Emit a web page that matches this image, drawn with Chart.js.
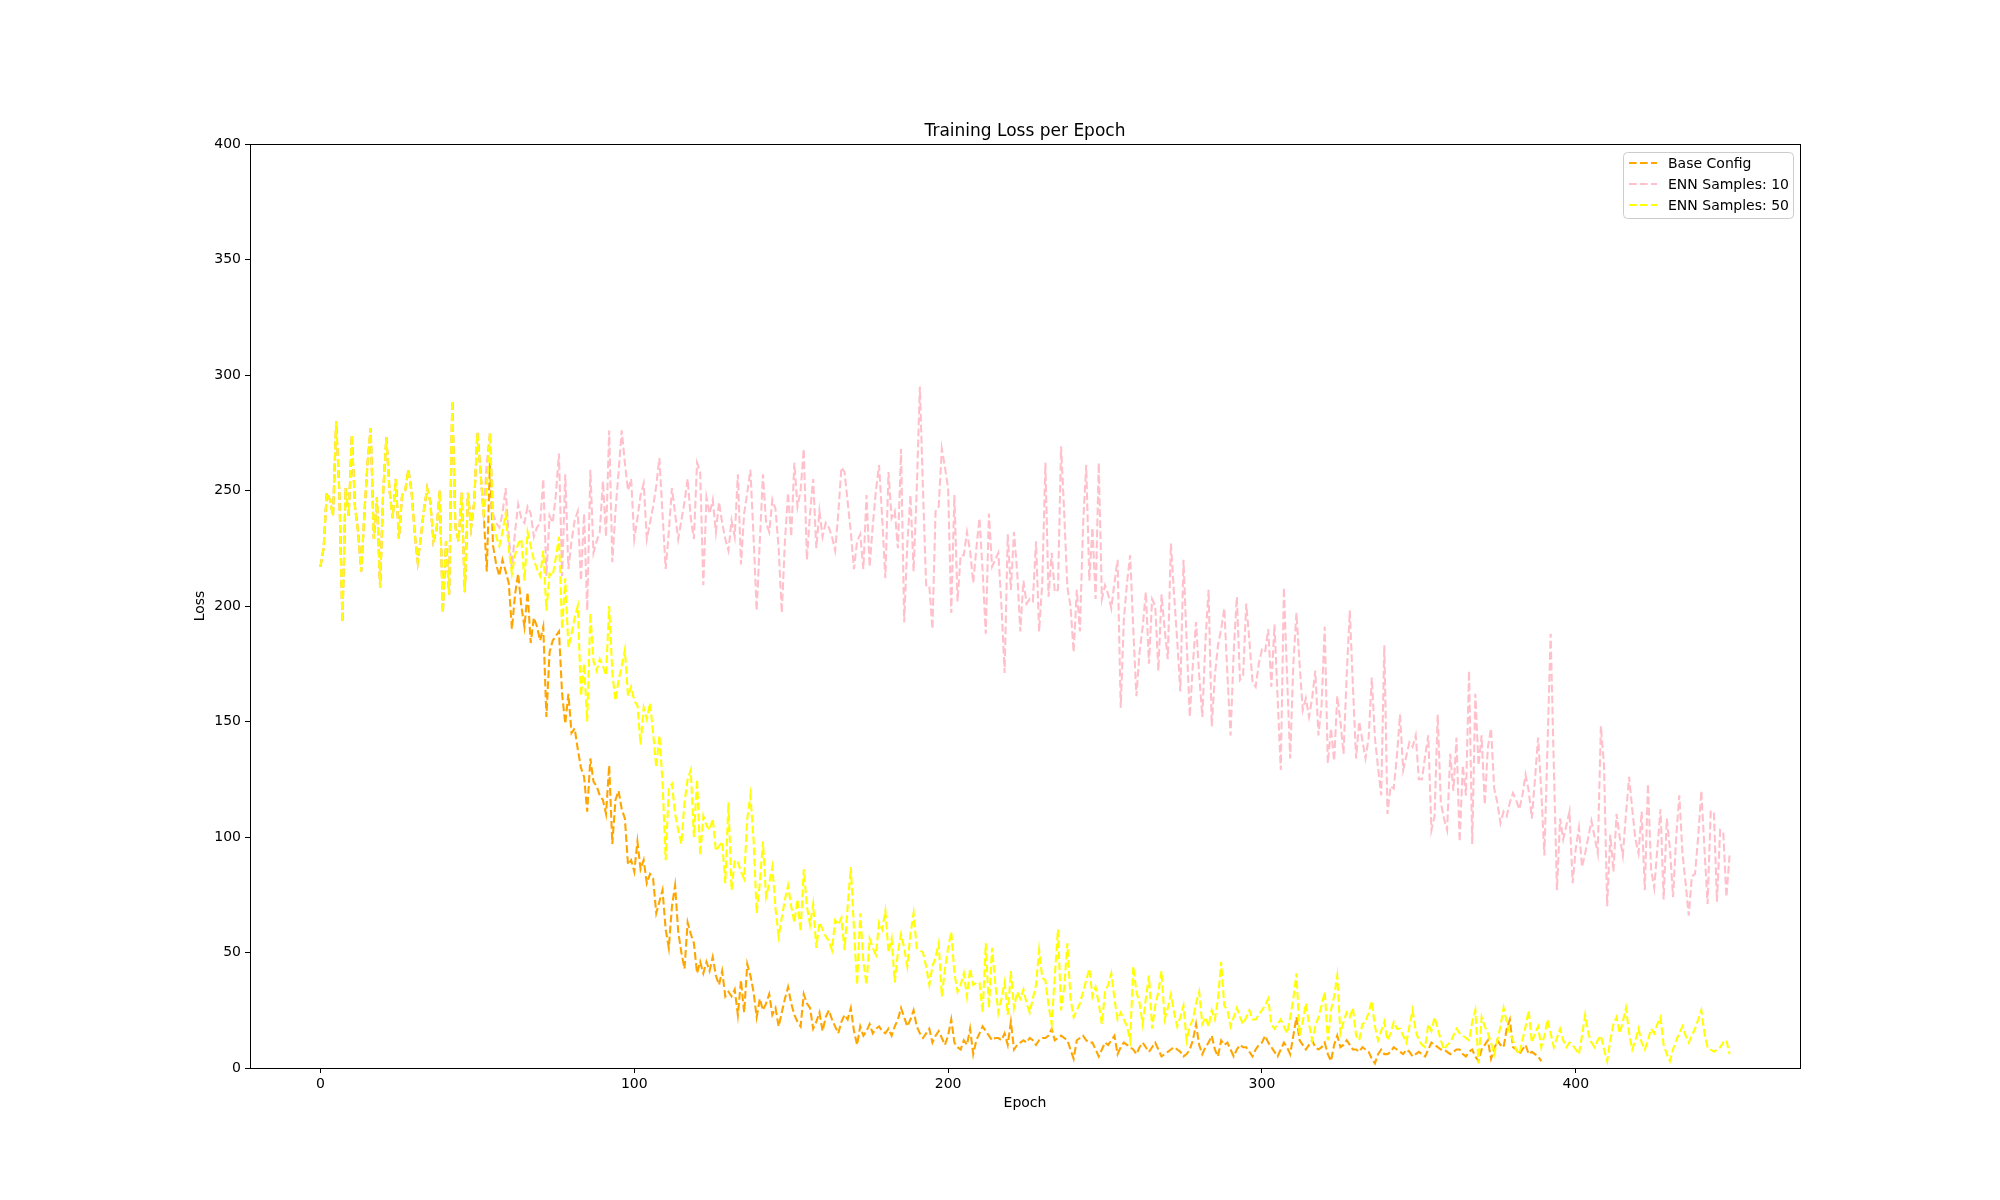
<!DOCTYPE html>
<html>
<head>
<meta charset="utf-8">
<title>Training Loss per Epoch</title>
<script src="https://cdn.jsdelivr.net/npm/chart.js"></script>
<style>
  html, body { margin: 0; padding: 0; background: #ffffff; }
  canvas { display: block; }
</style>
</head>
<body>
<canvas id="myChart" width="2000" height="1200"></canvas>
<script>
// loss values, one per epoch
// the three runs start on the same curve (epochs 0-52)
const firstEpochs = [
  217,225,249,246,239,280,250,193,251,239,
  274,243,232,215,240,262,277,229,247,208,
  250,273,250,238,255,229,248,250,259,250,
  232,219,230,242,251,245,228,233,250,197,
  228,205,289,234,228,249,206,249,234,245,
  275,258,240
]

// Base Config, epochs 53-389
const baseLater = [
  215,262,226,218,213,220,215,
  210,190,205,214,200,191,206,184,195,191,
  185,191,152,180,185,187,189,162,149,162,
  145,147,138,130,126,111,134,124,122,118,
  116,110,131,97,116,120,112,108,88,90,
  85,98,86,90,80,84,82,67,72,77,
  60,52,70,79,59,50,43,63,58,54,
  41,46,41,46,42,48,40,36,42,31,
  33,31,34,23,38,24,45,40,33,22,
  30,25,28,32,23,26,18,24,30,35,
  28,23,20,18,32,28,26,17,20,24,
  16,22,25,21,18,15,20,23,21,26,
  16,10,18,14,16,19,15,17,18,16,
  15,17,14,18,21,26,22,18,21,25,
  18,15,13,15,17,11,14,16,13,10,
  14,21,11,9,8,12,10,17,6,12,
  15,18,16,14,12,13,13,12,15,10,
  20,8,10,11,12,11,13,12,10,12,
  13,13,14,17,12,13,14,13,12,8,
  4,12,13,14,12,11,11,8,5,8,
  11,10,12,14,6,9,11,10,9,8,
  6,9,11,9,7,9,11,8,5,6,
  7,8,9,8,7,5,6,8,12,19,
  10,6,9,11,14,8,5,12,10,11,
  8,5,8,10,9,9,7,5,8,10,
  11,14,11,9,7,5,8,11,9,6,
  14,22,12,10,8,10,12,9,8,9,
  11,6,3,10,14,9,10,12,10,8,
  8,7,9,8,7,4,2,6,8,6,
  6,7,9,8,7,6,8,7,5,6,
  7,6,5,8,11,10,9,8,8,7,
  6,7,8,8,6,5,7,8,5,3,
  8,10,12,4,8,12,10,9,17,21,
  9,8,6,8,10,6,7,6,5,3
]

// ENN Samples: 10, epochs 53-449
const enn10Later = [
  262,275,240,236,234,240,251,
  230,216,232,244,238,236,243,240,230,234,
  236,255,213,239,236,248,266,213,257,216,
  228,237,241,211,240,198,259,223,228,232,
  254,230,276,219,241,258,276,262,250,255,
  229,238,248,253,229,236,243,252,264,240,
  216,232,251,240,229,237,245,255,238,229,
  262,258,209,247,240,246,232,245,236,229,
  224,237,230,257,218,240,249,259,230,198,
  228,257,236,232,246,242,225,197,228,249,
  230,262,243,250,268,220,240,255,225,241,
  230,236,234,230,224,240,260,258,245,232,
  216,228,231,216,248,217,235,250,261,238,
  212,258,238,241,225,268,193,227,248,215,
  250,295,250,209,209,190,241,243,268,260,
  251,197,248,202,222,222,232,224,210,225,
  238,215,188,240,217,220,223,200,171,231,
  207,232,215,189,211,201,203,202,228,189,
  210,262,204,223,206,207,269,240,208,200,
  180,207,189,235,261,211,234,203,262,203,
  209,205,199,210,220,156,194,210,222,190,
  161,180,191,206,175,203,200,172,205,190,
  177,227,205,185,163,220,185,152,175,193,
  170,152,185,207,148,170,183,190,199,170,
  144,180,204,168,170,201,185,167,165,175,
  181,180,190,165,192,160,129,208,170,134,
  175,197,175,155,160,152,160,172,144,157,
  191,132,147,133,161,150,136,170,198,165,
  134,150,142,134,143,169,143,130,118,183,
  110,122,121,135,153,129,135,141,139,144,
  125,125,135,144,103,109,153,115,108,103,
  136,120,143,98,131,118,172,97,162,131,
  144,114,139,147,121,115,106,111,109,115,
  119,116,112,118,127,120,108,125,143,120,
  92,140,188,131,77,108,99,105,111,80,
  95,104,87,93,100,107,100,93,148,131,
  70,101,85,110,100,92,110,126,112,99,
  93,111,77,123,86,78,95,112,73,108,
  95,74,100,118,93,80,66,83,84,100,
  120,95,71,111,111,72,103,102,74,92
]

// ENN Samples: 50, epochs 53-449
const enn50Later = [
  250,275,236,230,226,232,240,
  225,214,222,227,229,211,232,226,220,216,
  213,224,198,214,213,221,230,190,212,182,
  188,195,200,161,175,150,197,176,172,177,
  174,170,200,171,159,168,174,181,161,165,
  159,157,140,156,151,158,145,130,144,124,
  90,121,123,110,103,97,115,125,129,100,
  125,92,109,105,103,108,94,96,98,80,
  115,77,90,89,85,82,108,118,99,67,
  80,98,74,80,87,69,57,65,73,79,
  70,63,73,59,86,70,62,71,52,63,
  60,57,55,51,64,62,65,51,70,87,
  60,36,67,46,36,56,52,49,63,60,
  68,50,56,37,50,58,52,44,58,67,
  52,51,50,44,36,44,48,54,31,43,
  52,59,41,33,36,41,31,43,36,37,
  37,24,54,26,52,37,24,30,37,23,
  42,26,33,30,34,28,24,30,36,51,
  39,38,27,19,40,60,25,35,54,30,
  22,25,28,33,38,43,31,35,28,19,
  33,36,41,30,21,24,21,18,12,44,
  33,28,19,30,40,17,27,33,42,21,
  26,32,24,18,22,27,12,18,21,28,
  33,19,22,18,25,21,30,46,27,25,
  18,22,26,22,19,22,25,21,21,23,
  25,27,30,19,17,19,21,18,15,22,
  30,41,14,20,28,19,12,18,22,27,
  33,12,25,31,40,15,20,24,22,26,
  14,12,19,20,24,29,18,12,16,20,
  12,15,20,17,17,14,11,18,25,16,
  12,10,9,19,16,22,17,12,8,10,
  11,14,17,15,14,13,12,20,25,2,
  22,18,15,11,6,12,18,26,20,15,
  12,8,6,12,18,25,11,15,18,9,
  14,21,15,9,13,17,12,9,11,10,
  8,6,14,23,15,11,9,12,14,8,
  3,12,19,22,15,20,26,15,8,12,
  17,11,8,12,17,15,19,22,10,6,
  3,8,12,15,18,14,11,14,17,21,
  25,15,9,8,7,8,9,11,12,6
]

const baseConfig = firstEpochs.concat(baseLater)
const enn10 = firstEpochs.concat(enn10Later)
const enn50 = firstEpochs.concat(enn50Later)

const seriesNames = ['Base Config', 'ENN Samples: 10', 'ENN Samples: 50']
const seriesColors = ['#ffa500', '#ffc0cb', '#ffff00']
const xTicks = [0, 100, 200, 300, 400]
const yTicks = [0, 50, 100, 150, 200, 250, 300, 350, 400]
const chartTitle = 'Training Loss per Epoch'

const font = '"DejaVu Sans", sans-serif'
const lineWidth = 2.08
const dash = [7.7, 3.3]

function toPoints(values) {
  return values.map((v, i) => ({ x: i, y: v }))
}

// box around the plot, title and the legend in the upper right corner
const framePlugin = {
  id: 'frame',
  afterDraw(chart) {
    const ctx = chart.ctx
    const a = chart.chartArea
    ctx.save()
    ctx.strokeStyle = '#000000'
    ctx.lineWidth = 1
    ctx.setLineDash([])
    ctx.strokeRect(Math.round(a.left) + 0.5, Math.round(a.top) + 0.5,
      Math.round(a.right - a.left), Math.round(a.bottom - a.top))

    ctx.fillStyle = '#000000'
    ctx.font = '17px ' + font
    ctx.textAlign = 'center'
    ctx.textBaseline = 'alphabetic'
    ctx.fillText(chartTitle, (a.left + a.right) / 2, a.top - 8)

    // legend
    const bx = a.right - 177, by = a.top + 8, bw = 170, bh = 66
    ctx.beginPath()
    ctx.roundRect(bx + 0.5, by + 0.5, bw, bh, 4)
    ctx.fillStyle = 'rgba(255,255,255,0.8)'
    ctx.fill()
    ctx.strokeStyle = '#cccccc'
    ctx.stroke()

    ctx.font = '14px ' + font
    ctx.textAlign = 'left'
    ctx.textBaseline = 'middle'
    chart.data.datasets.forEach((ds, i) => {
      const y = by + 11 + i * 21
      ctx.beginPath()
      ctx.setLineDash(dash)
      ctx.lineWidth = lineWidth
      ctx.strokeStyle = ds.borderColor
      ctx.moveTo(bx + 6, y)
      ctx.lineTo(bx + 34, y)
      ctx.stroke()
      ctx.setLineDash([])
      ctx.fillStyle = '#000000'
      ctx.fillText(ds.label, bx + 45, y + 1)
    })
    ctx.restore()
  }
}

const ctx = document.getElementById('myChart')

const data = {
  datasets: [baseConfig, enn10, enn50].map((values, i) => ({
    label: seriesNames[i],
    data: toPoints(values),
    borderColor: seriesColors[i],
    backgroundColor: seriesColors[i],
    borderWidth: lineWidth,
    borderDash: dash,
    pointRadius: 0,
    fill: false,
    tension: 0,
    order: 2 - i
  }))
}

const config = {
  type: 'line',
  data: data,
  options: {
    responsive: false,
    animation: false,
    devicePixelRatio: 1,
    layout: { padding: { left: 0, right: 200, top: 144, bottom: 0 } },
    plugins: {
      legend: { display: false },
      title: { display: false },
      tooltip: { enabled: false }
    },
    scales: {
      x: {
        type: 'linear',
        min: -22.45,
        max: 471.45,
        afterBuildTicks: (scale) => { scale.ticks = xTicks.map(v => ({ value: v })) },
        afterFit: (scale) => { scale.height = 132 },
        grid: { display: true, drawOnChartArea: false, drawTicks: true, tickLength: 5, color: '#000000' },
        border: { display: false },
        ticks: { color: '#000000', font: { family: font, size: 14 }, padding: 3, maxRotation: 0 },
        title: { display: true, text: 'Epoch', color: '#000000', font: { family: font, size: 14 }, padding: { top: 4, bottom: 88 } }
      },
      y: {
        min: 0,
        max: 400,
        afterBuildTicks: (scale) => { scale.ticks = yTicks.map(v => ({ value: v })) },
        afterFit: (scale) => { scale.width = 250 },
        grid: { display: true, drawOnChartArea: false, drawTicks: true, tickLength: 5, color: '#000000' },
        border: { display: false },
        ticks: { color: '#000000', font: { family: font, size: 14 }, padding: 4 },
        title: { display: true, text: 'Loss', color: '#000000', font: { family: font, size: 14 }, padding: { top: 192, bottom: 4 } }
      }
    }
  },
  plugins: [framePlugin]
}

const myChart = new Chart(ctx, config)
</script>
</body>
</html>
